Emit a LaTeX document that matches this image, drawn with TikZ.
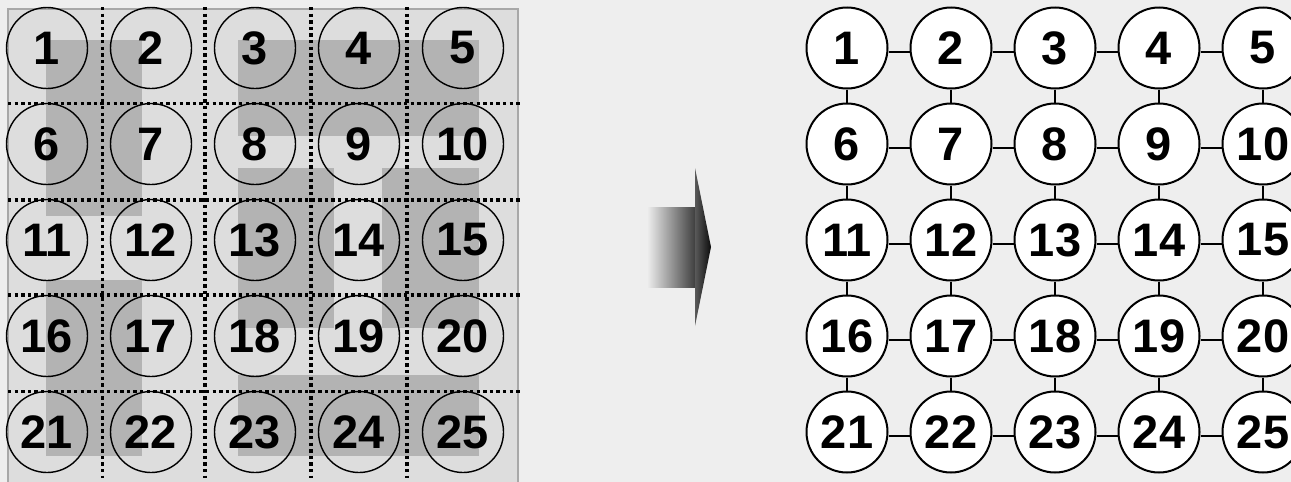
\documentclass[tikz,border=0pt]{standalone}
\usepackage{fontspec}
\setmainfont{Liberation Sans}
\definecolor{bg}{HTML}{EEEEEE}
\definecolor{gridfill}{HTML}{DDDDDD}
\definecolor{gridborder}{HTML}{A8A8A8}
\definecolor{darkreg}{HTML}{B3B3B3}
\newcommand\numfont{\fontsize{47}{50}\selectfont\bfseries}
\begin{document}
\begin{tikzpicture}[x=1pt,y=-1pt,
  lcirc/.style={circle,draw=black,line width=1.4pt,minimum size=81pt,inner sep=0pt,font=\numfont},
  rcirc/.style={circle,draw=black,fill=white,line width=2pt,minimum size=81pt,inner sep=0pt,font=\numfont},
  dotline/.style={line width=3.5pt,dash pattern=on 3.3pt off 3.3pt},
  link/.style={line width=2pt},
  region/.style={fill=darkreg,draw=none}]
\useasboundingbox (0,0) rectangle (1291,482);
\fill[bg] (0,0) rectangle (1291,482);
\clip (0,0) rectangle (1291,482);
% left grid
\draw[draw=gridborder,fill=gridfill,line width=1.5pt] (8,9) rectangle (518,495);
\fill[region] (46,40) rectangle (142,216);
\fill[region] (46,280) rectangle (142,456);
\fill[region] (238,40) rectangle (479,136);
\fill[region] (238,168) rectangle (334,328);
\fill[region] (382,168) rectangle (479,328);
\fill[region] (238,375) rectangle (479,456);
\foreach \x in {102.7,205,311,407} \draw[dotline] (\x,7) -- (\x,478);
\foreach \y in {103.7,200,295,391.7} \draw[dotline] (8,\y) -- (520,\y);
\foreach \r in {0,...,4} {
  \foreach \c in {0,...,4} {
    \pgfmathtruncatemacro\n{5*\r+\c+1}
    \node[lcirc] (l\n) at ({47+104*\c},{48+96*\r}) {\n};
    \node[rcirc] (r\n) at ({847+104*\c},{48+96*\r}) {\n};
  }
}
% connectors
\foreach \r in {0,...,4} {
  \foreach \c in {0,...,3} {
    \pgfmathtruncatemacro\a{5*\r+\c+1}
    \pgfmathtruncatemacro\b{5*\r+\c+2}
    \draw[link] ([yshift=-3.5pt]r\a.east) -- ([yshift=-3.5pt]r\b.west);
  }
}
\foreach \r in {0,...,3} {
  \foreach \c in {0,...,4} {
    \pgfmathtruncatemacro\a{5*\r+\c+1}
    \pgfmathtruncatemacro\b{5*\r+\c+6}
    \draw[link] (r\a.south) -- (r\b.north);
  }
}
% arrow
\shade[left color=bg,right color=black!75] (647,207) rectangle (695,287);
\shade[left color=black!65,right color=black!95] (695,168) -- (711,247) -- (695,326) -- cycle;
\end{tikzpicture}
\end{document}
